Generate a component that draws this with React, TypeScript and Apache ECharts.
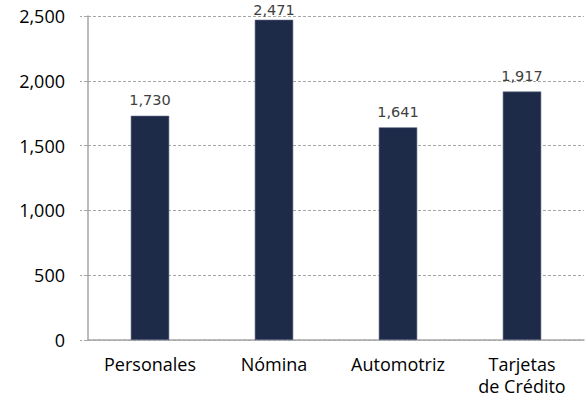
import React, { useEffect, useRef } from "react";
import * as echarts from "echarts";

const categories = ["Personales", "Nómina", "Automotriz", "Tarjetas\nde Crédito"];
const values = [1730, 2471, 1641, 1917];
const yTicks = [0, 500, 1000, 1500, 2000, 2500];

export default function App() {
  const ref = useRef<HTMLDivElement>(null);
  useEffect(() => {
    const chart = echarts.init(ref.current!, null, { renderer: "svg" });
    const maxVal = Math.max(...values);
    chart.setOption({
      animation: false,
      grid: { left: 88, right: 2, top: 16, bottom: 60, containLabel: false },
      xAxis: {
        type: "category",
        data: categories,
        axisLine: { lineStyle: { color: "#a6a6a6", width: 1.5 } },
        axisTick: { show: false },
        axisLabel: {
          color: "#000",
          fontFamily: "Open Sans",
          fontSize: 18,
          margin: 13,
          lineHeight: 22,
        },
      },
      yAxis: {
        type: "value",
        min: yTicks[0],
        max: yTicks[yTicks.length - 1],
        interval: yTicks[1] - yTicks[0],
        axisLine: { show: true, lineStyle: { color: "#a6a6a6", width: 1.5 } },
        axisTick: { show: true, length: 8, lineStyle: { color: "#a6a6a6", type: "dashed" } },
        splitLine: { lineStyle: { color: "#a6a6a6", type: [3, 2], width: 1 } },
        axisLabel: {
          color: "#000",
          fontFamily: "Open Sans",
          fontSize: 18,
          margin: 23,
          formatter: (v: number) => v.toLocaleString("en-US"),
        },
      },
      series: [
        {
          type: "bar",
          data: values.map((v) =>
            v === maxVal ? { value: v, label: { distance: 2 } } : v
          ),
          barWidth: "31%",
          itemStyle: { color: "#1d2a48", borderColor: "#5b6784", borderWidth: 0.6 },
          label: {
            show: true,
            position: "top",
            distance: 8,
            color: "#404040",
            fontFamily: "DejaVu Sans",
            fontSize: 14.5,
            formatter: (p: any) => p.value.toLocaleString("en-US"),
          },
        },
      ],
    });
    return () => chart.dispose();
  }, []);
  return (
    <div
      ref={ref}
      style={{ position: "absolute", left: 0, top: 0, width: 586, height: 400 }}
    />
  );
}
